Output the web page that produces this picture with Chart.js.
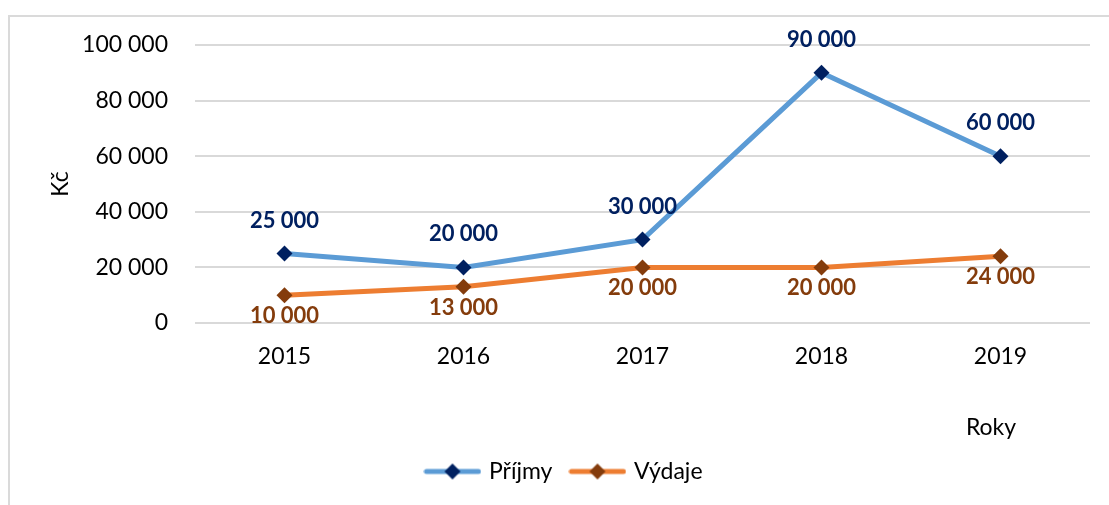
<!DOCTYPE html>
<html>
<head>
<meta charset="utf-8">
<script src="https://cdn.jsdelivr.net/npm/chart.js@4"></script>
<style>
  html, body { margin: 0; padding: 0; background: #fff; overflow: hidden; }
  .wrap { position: relative; width: 1109px; height: 505px; }
  .frame { position: absolute; left: 8px; top: 15px; width: 1200px; height: 600px;
           border-top: 2px solid #dadada; border-left: 2px solid #dadada; }
  .wrap canvas { position: absolute; left: 0; top: 0; }
</style>
</head>
<body>
<div class="wrap">
  <div class="frame"></div>
  <canvas id="chart" width="1109" height="505"></canvas>
</div>
<script>
// data
const years = ["2015", "2016", "2017", "2018", "2019"];
const prijmy = [25000, 20000, 30000, 90000, 60000];
const vydaje = [10000, 13000, 20000, 20000, 24000];
const yMin = 0;
const yMax = 100000;
const yStep = 20000;

const FONT = "Lato";

// cisla s mezerou jako oddelovacem tisicu
function fmt(v) {
  return String(v).replace(/\B(?=(\d{3})+(?!\d))/g, " ");
}

// ikonka do legendy: cara + kosoctverec
function legendIcon(lineColor, markColor) {
  const c = document.createElement("canvas");
  c.width = 58;
  c.height = 20;
  const g = c.getContext("2d");
  g.strokeStyle = lineColor;
  g.lineWidth = 5;
  g.lineCap = "round";
  g.beginPath();
  g.moveTo(3, 10);
  g.lineTo(55, 10);
  g.stroke();
  g.fillStyle = markColor;
  g.beginPath();
  g.moveTo(29, 2);
  g.lineTo(37, 10);
  g.lineTo(29, 18);
  g.lineTo(21, 10);
  g.closePath();
  g.fill();
  return c;
}

// popisky hodnot (bez datalabels pluginu)
const valueLabels = {
  id: "valueLabels",
  afterDatasetsDraw(chart) {
    const ctx = chart.ctx;
    ctx.save();
    ctx.font = "bold 22px " + FONT;
    ctx.textAlign = "center";
    ctx.textBaseline = "middle";
    chart.data.datasets.forEach((ds, i) => {
      const meta = chart.getDatasetMeta(i);
      ctx.fillStyle = ds.labelColor;
      meta.data.forEach((pt, j) => {
        ctx.fillText(fmt(ds.data[j]), pt.x, pt.y + ds.labelOffset);
      });
    });
    ctx.restore();
  }
};

// nazev osy x vpravo dole
const xTitle = {
  id: "xTitle",
  afterDraw(chart) {
    const ctx = chart.ctx;
    const a = chart.chartArea;
    ctx.save();
    ctx.font = "23px " + FONT;
    ctx.fillStyle = "#000";
    ctx.textAlign = "center";
    ctx.textBaseline = "middle";
    ctx.fillText("Roky", a.right - 99, a.bottom + 105);
    ctx.restore();
  }
};

new Chart(document.getElementById("chart"), {
  type: "line",
  data: {
    labels: years,
    datasets: [
      {
        label: "Příjmy",
        data: prijmy,
        borderColor: "#5B9BD5",
        backgroundColor: "#002060",
        pointBackgroundColor: "#002060",
        pointBorderColor: "#002060",
        borderWidth: 5,
        pointStyle: "rectRot",
        pointRadius: 8,
        pointBorderWidth: 0,
        tension: 0,
        labelColor: "#002060",
        labelOffset: -33,
      },
      {
        label: "Výdaje",
        data: vydaje,
        borderColor: "#ED7D31",
        backgroundColor: "#843C0C",
        pointBackgroundColor: "#843C0C",
        pointBorderColor: "#843C0C",
        borderWidth: 5,
        pointStyle: "rectRot",
        pointRadius: 8,
        pointBorderWidth: 0,
        tension: 0,
        labelColor: "#843C0C",
        labelOffset: 21,
      },
    ],
  },
  options: {
    responsive: false,
    animation: false,
    layout: {
      padding: { left: 40, right: 19, top: 45, bottom: 12 },
    },
    plugins: {
      legend: {
        position: "bottom",
        labels: {
          usePointStyle: true,
          pointStyleWidth: 50,
          padding: 20,
          color: "#000",
          font: { family: FONT, size: 23 },
          generateLabels(chart) {
            return chart.data.datasets.map((ds, i) => ({
              text: ds.label,
              pointStyle: legendIcon(ds.borderColor, ds.pointBackgroundColor),
              fillStyle: ds.pointBackgroundColor,
              strokeStyle: ds.borderColor,
              lineWidth: 0,
              fontColor: "#000",
              datasetIndex: i,
              hidden: false,
            }));
          },
        },
      },
      tooltip: { enabled: false },
    },
    scales: {
      x: {
        offset: true,
        grid: { display: false, drawTicks: false },
        border: { display: false },
        ticks: {
          color: "#000",
          padding: 20,
          font: { family: FONT, size: 23 },
        },
        afterFit(scale) {
          scale.height = 117;
        },
      },
      y: {
        min: yMin,
        max: yMax,
        grid: { color: "#d9d9d9", lineWidth: 2, drawTicks: false },
        border: { display: false },
        ticks: {
          stepSize: yStep,
          color: "#000",
          padding: 27,
          font: { family: FONT, size: 23 },
          callback: (v) => fmt(v),
        },
        title: {
          display: true,
          text: "Kč",
          color: "#000",
          padding: { top: 7, bottom: 0 },
          font: { family: FONT, size: 23 },
        },
        afterFit(scale) {
          scale.width = 155;
        },
      },
    },
  },
  plugins: [valueLabels, xTitle],
});
</script>
</body>
</html>
